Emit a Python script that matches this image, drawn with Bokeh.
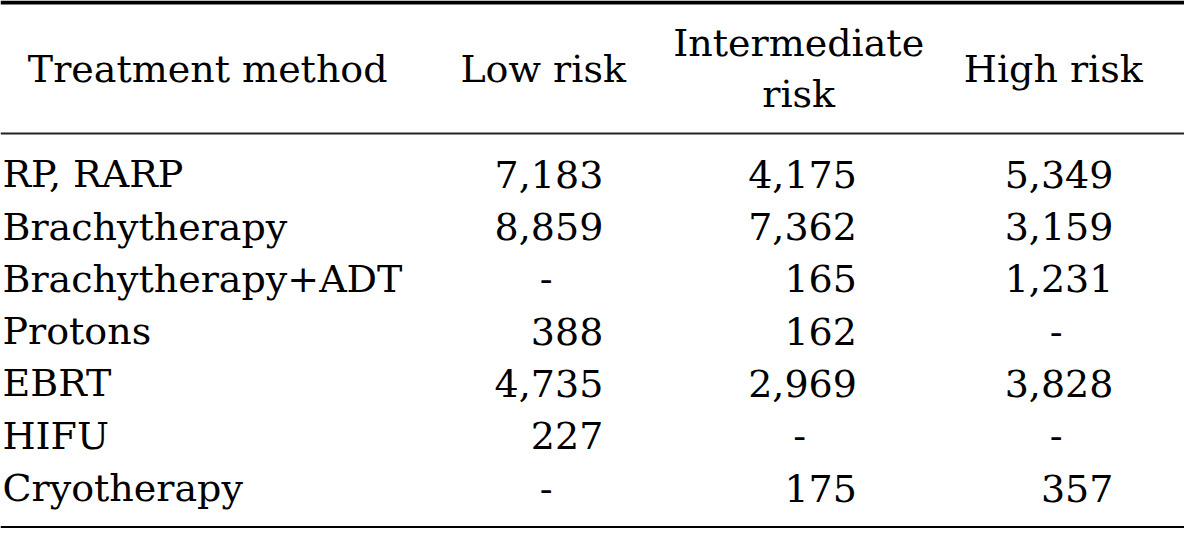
from bokeh.plotting import figure
from bokeh.models import Range1d
from bokeh.core.properties import value
from bokeh.embed import file_html
from bokeh.resources import INLINE

# ---- data ----
header_labels = ["Treatment method", "Low risk", "Intermediate\nrisk", "High risk"]
methods = ["RP, RARP", "Brachytherapy", "Brachytherapy+ADT", "Protons", "EBRT", "HIFU", "Cryotherapy"]
low_risk = [7183, 8859, None, 388, 4735, 227, None]
intermediate_risk = [4175, 7362, 165, 162, 2969, None, 175]
high_risk = [5349, 3159, 1231, None, 3828, None, 357]

# ---- layout (reference pixel space, y downwards) ----
W, H = 1184, 528
FONT = value("DejaVu Serif")
FS = "38px"
SHIFT = 14          # compensates renderer baseline placement
label_x = 2
col_right = [611, 868, 1128]
col_center = [550, 809, 1067]
dash_offset = 58
first_base = 193 - SHIFT
row_h = 53.9
header_x = [210] + col_center
header_base = 85 - SHIFT
header_two_line = (58 - SHIFT, 110 - SHIFT)

p = figure(width=W, height=H, output_backend="svg", toolbar_location=None,
           x_range=Range1d(0, 1200), y_range=Range1d(544, 0), min_border=0)
p.axis.visible = False
p.grid.visible = False
p.outline_line_color = None
p.background_fill_color = "white"
p.border_fill_color = "white"

# rules
p.hspan(y=[2], line_width=4, line_color="black")
p.hspan(y=[137.5], line_width=2, line_color="#222222")
p.hspan(y=[542.5], line_width=3, line_color="black")

# header
hx, hy, ht = [], [], []
for x, lab in zip(header_x, header_labels):
    parts = lab.split("\n")
    if len(parts) == 1:
        hx.append(x); hy.append(header_base); ht.append(parts[0])
    else:
        for yy, part in zip(header_two_line, parts):
            hx.append(x); hy.append(yy); ht.append(part)
p.text(x=hx, y=hy, text=ht, text_font=FONT, text_font_size=FS,
       text_align="center", text_baseline="alphabetic", text_color="black")

# row labels
ys = [first_base + i * row_h for i in range(len(methods))]
p.text(x=[label_x] * len(methods), y=ys, text=methods, text_font=FONT,
       text_font_size=FS, text_align="left", text_baseline="alphabetic",
       text_color="black")

# values
nx, ny, nt = [], [], []
dx, dy = [], []
for ci, series in enumerate([low_risk, intermediate_risk, high_risk]):
    for ri, v in enumerate(series):
        if v is None:
            dx.append(col_right[ci] - dash_offset); dy.append(ys[ri])
        else:
            nx.append(col_right[ci]); ny.append(ys[ri]); nt.append(f"{v:,}")
p.text(x=nx, y=ny, text=nt, text_font=FONT, text_font_size=FS,
       text_align="right", text_baseline="alphabetic", text_color="black")
p.text(x=dx, y=dy, text=["-"] * len(dx), text_font=FONT, text_font_size=FS,
       text_align="center", text_baseline="alphabetic", text_color="black")

open("out.html", "w").write(file_html(p, INLINE))
